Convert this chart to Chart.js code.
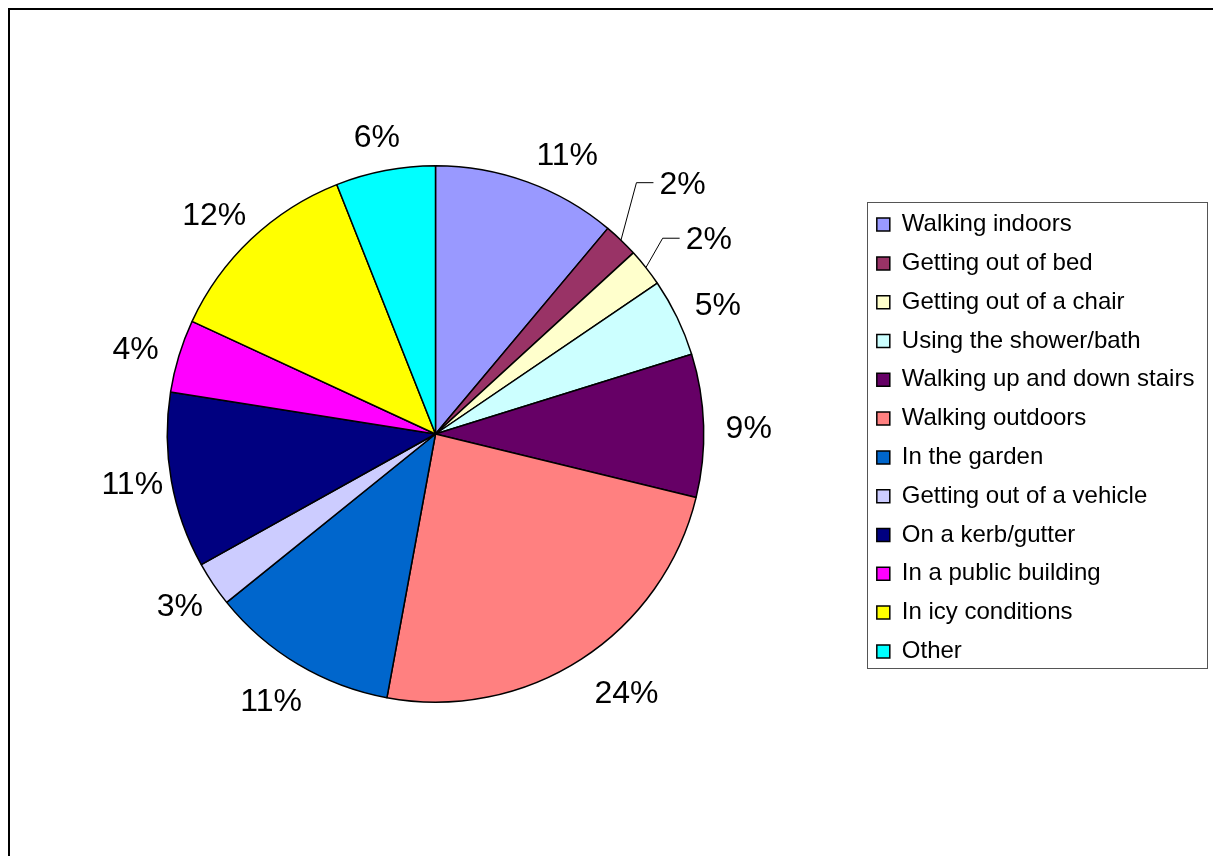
<!DOCTYPE html>
<html>
<head>
<meta charset="utf-8">
<script src="https://cdn.jsdelivr.net/npm/chart.js@4"></script>
<style>
  html, body { margin: 0; padding: 0; background: #fff; overflow: hidden; }
  #frame { position: absolute; left: 8px; top: 8px; width: 1400px; height: 1000px;
           border-top: 2px solid #000; border-left: 2px solid #000; }
  #wrap { position: absolute; left: 0; top: 0; width: 1213px; height: 856px; }
</style>
</head>
<body>
<div id="frame"></div>
<div id="wrap"><canvas id="fallChart" width="1213" height="856"></canvas></div>
<script>
// where the falls happened (share of all falls, %)
var categories = ['Walking indoors', 'Getting out of bed', 'Getting out of a chair', 'Using the shower/bath',
  'Walking up and down stairs', 'Walking outdoors', 'In the garden', 'Getting out of a vehicle',
  'On a kerb/gutter', 'In a public building', 'In icy conditions', 'Other'];
var shares = [11.1, 2.1, 2.3, 4.7, 8.6, 24.1, 11.3, 2.7, 10.6, 4.4, 12.1, 6.0];
var sliceColors = ['#9999FF', '#993366', '#FFFFCC', '#CCFFFF', '#660066', '#FF8080',
  '#0066CC', '#CCCCFF', '#000080', '#FF00FF', '#FFFF00', '#00FFFF'];

// small slices whose labels are pulled out with a leader line
var leaderLabels = { 1: { dist: 351, turn: 1 }, 2: { dist: 335, turn: 3 } };
// a few labels sit a little off the slice middle, like in the original
var labelTweak = { 0: { turn: 4, extra: 3 }, 5: { turn: -2.5, extra: 7 }, 7: { extra: -5 }, 8: { turn: 1, extra: -14 } };
var FONT = "'Liberation Sans', Arial, sans-serif";

var percentLabels = {
  id: 'percentLabels',
  afterDatasetsDraw: function(chart) {
    var ctx = chart.ctx;
    var arcs = chart.getDatasetMeta(0).data;
    var total = shares.reduce(function(a, b) { return a + b; }, 0);
    ctx.save();
    ctx.font = '32px ' + FONT;
    ctx.fillStyle = '#000';
    ctx.strokeStyle = '#000';
    ctx.lineWidth = 1;
    ctx.textAlign = 'center';
    ctx.textBaseline = 'middle';
    arcs.forEach(function(arc, i) {
      var txt = Math.round(shares[i] / total * 100) + '%';
      var w = ctx.measureText(txt).width, h = 32;
      var mid = (arc.startAngle + arc.endAngle) / 2;
      var R = arc.outerRadius;
      var cx, cy;
      if (leaderLabels[i]) {
        var a = mid + leaderLabels[i].turn * Math.PI / 180;
        cx = arc.x + leaderLabels[i].dist * Math.cos(a);
        cy = arc.y + leaderLabels[i].dist * Math.sin(a);
        var ex = arc.x + R * Math.cos(mid), ey = arc.y + R * Math.sin(mid);
        var hx = cx - w / 2 - 6, hy = cy - 2;
        ctx.beginPath();
        ctx.moveTo(ex, ey);
        ctx.lineTo(hx - 17, hy);
        ctx.lineTo(hx, hy);
        ctx.stroke();
      } else {
        var t = labelTweak[i] || {};
        var gap = 22 + (t.extra || 0);
        var m = mid + (t.turn || 0) * Math.PI / 180;
        cx = arc.x + (R + gap) * Math.cos(m) + w / 2 * Math.cos(m);
        cy = arc.y + (R + gap) * Math.sin(m) + h / 2 * Math.sin(m) + 5;
      }
      ctx.fillText(txt, cx, cy);
    });
    ctx.restore();
  }
};

var legendFrame = {
  id: 'legendFrame',
  afterLayout: function(chart) {
    // the legend sits a few pixels lower than the pie centre
    chart.legend.top += 4;
    chart.legend.bottom += 4;
  },
  afterDraw: function(chart) {
    var lg = chart.legend, hb = lg.legendHitBoxes;
    if (!hb || !hb.length) return;
    var last = hb[hb.length - 1];
    var x0 = hb[0].left - 10, y0 = hb[0].top - 11;
    var x1 = lg.right + 2, y1 = last.top + last.height + 4;
    var ctx = chart.ctx;
    ctx.save();
    ctx.strokeStyle = '#555';
    ctx.lineWidth = 1;
    ctx.strokeRect(Math.round(x0) + 0.5, Math.round(y0) + 0.5, Math.round(x1 - x0), Math.round(y1 - y0));
    ctx.restore();
  }
};

document.addEventListener('DOMContentLoaded', function() {
  var ctx = document.getElementById('fallChart').getContext('2d');
  new Chart(ctx, {
    type: 'pie',
    data: {
      labels: categories,
      datasets: [{
        data: shares,
        backgroundColor: sliceColors,
        borderColor: '#000',
        borderWidth: 1.5
      }]
    },
    options: {
      responsive: false,
      animation: false,
      layout: { padding: { left: 9, right: 8.6, top: 165, bottom: 153 } },
      plugins: {
        legend: {
          position: 'right',
          labels: {
            color: '#000',
            font: { family: FONT, size: 24 },
            boxWidth: 13,
            boxHeight: 13,
            padding: 14.8
          }
        },
        tooltip: { enabled: false }
      }
    },
    plugins: [percentLabels, legendFrame]
  });
});
</script>
</body>
</html>
